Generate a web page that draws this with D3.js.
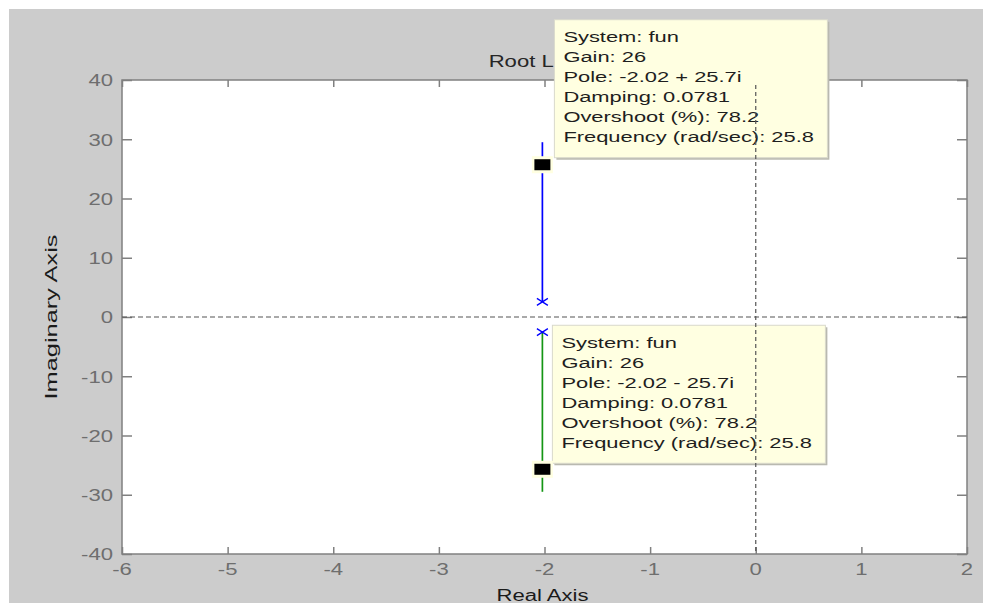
<!DOCTYPE html>
<html>
<head>
<meta charset="utf-8">
<script src="https://cdn.jsdelivr.net/npm/d3@7"></script>
<style>
  html, body { margin: 0; padding: 0; background: #ffffff; }
  svg { display: block; }
  text { font-family: "Liberation Sans", Arial, Helvetica, sans-serif; }
</style>
</head>
<body>
<svg id="chart" width="983" height="603"></svg>
<script>
// Root locus of the closed loop system "fun"
const realTicks = [-6, -5, -4, -3, -2, -1, 0, 1, 2];
const imagTicks = [-40, -30, -20, -10, 0, 10, 20, 30, 40];
const realDomain = [-6, 2];
const imagDomain = [-40, 40];

// locus branches (real part, imaginary part)
const branchUpper = [[-2.02, 2.55], [-2.02, 29.5]];
const branchLower = [[-2.02, -2.55], [-2.02, -29.5]];
// open-loop poles
const openLoopPoles = [[-2.02, 2.55], [-2.02, -2.55]];
// selected closed-loop poles with their data tips
const systemName = "fun";
const tipGain = [26, 26];
const tipRe = [-2.02, -2.02];
const tipIm = [25.7, -25.7];
const tipDamping = [0.0781, 0.0781];
const tipOvershoot = [78.2, 78.2];
const tipFrequency = [25.8, 25.8];

const titleText = "Root Locus";
const xLabelText = "Real Axis";
const yLabelText = "Imaginary Axis";

const svg = d3.select("#chart");
const W = 983, H = 603;
const plot = { left: 122, right: 967, top: 80, bottom: 554 };
const SX = 1.38;        // horizontal text stretch

const x = d3.scaleLinear().domain(realDomain).range([plot.left, plot.right]);
const y = d3.scaleLinear().domain(imagDomain).range([plot.bottom, plot.top]);

// figure background
svg.append("rect").attr("x", 9).attr("y", 9).attr("width", W - 9).attr("height", H - 9)
  .attr("fill", "#cccccc");

// axes area
svg.append("rect").attr("x", plot.left).attr("y", plot.top)
  .attr("width", plot.right - plot.left).attr("height", plot.bottom - plot.top)
  .attr("fill", "#ffffff");

svg.append("defs").append("clipPath").attr("id", "plotClip")
  .append("rect").attr("x", plot.left).attr("y", plot.top)
  .attr("width", plot.right - plot.left).attr("height", plot.bottom - plot.top);

// ticks on all four sides, pointing inward
const axisColor = "#808080";
function styleAxis(g) {
  g.select(".domain").remove();
  g.selectAll(".tick line").attr("stroke", axisColor).attr("stroke-width", 1.5);
  g.selectAll(".tick text").remove();
}
svg.append("g").attr("transform", `translate(0,${plot.bottom})`)
  .call(d3.axisBottom(x).tickValues(realTicks).tickSize(-7)).call(styleAxis);
svg.append("g").attr("transform", `translate(0,${plot.top})`)
  .call(d3.axisTop(x).tickValues(realTicks).tickSize(-7)).call(styleAxis);
svg.append("g").attr("transform", `translate(${plot.left},0)`)
  .call(d3.axisLeft(y).tickValues(imagTicks).tickSize(-10)).call(styleAxis);
svg.append("g").attr("transform", `translate(${plot.right},0)`)
  .call(d3.axisRight(y).tickValues(imagTicks).tickSize(-10)).call(styleAxis);

// axes box
svg.append("rect").attr("x", plot.left).attr("y", plot.top)
  .attr("width", plot.right - plot.left).attr("height", plot.bottom - plot.top)
  .attr("fill", "none").attr("stroke", axisColor).attr("stroke-width", 1.5);

// tick labels
const tickColor = "#6e6e6e";
svg.append("g").selectAll("text").data(realTicks).join("text")
  .attr("transform", d => `translate(${x(d)},575) scale(${SX},1)`)
  .attr("text-anchor", "middle").attr("font-size", 16).attr("fill", tickColor)
  .text(d => String(d));
svg.append("g").selectAll("text").data(imagTicks).join("text")
  .attr("transform", d => `translate(113,${y(d) + 6.3}) scale(${SX},1)`)
  .attr("text-anchor", "end").attr("font-size", 16).attr("fill", tickColor)
  .text(d => String(d));

// title and axis labels
svg.append("text").attr("transform", `translate(${(plot.left + plot.right) / 2},67) scale(${SX},1)`)
  .attr("text-anchor", "middle").attr("font-size", 16).attr("fill", "#262626").text(titleText);
svg.append("text").attr("transform", `translate(${(plot.left + plot.right) / 2 - 2},601) scale(${SX},1)`)
  .attr("text-anchor", "middle").attr("font-size", 16).attr("fill", "#1a1a1a").text(xLabelText);
svg.append("text").attr("transform", `translate(57,${(plot.top + plot.bottom) / 2}) rotate(-90) scale(1.75,1.2)`)
  .attr("text-anchor", "middle").attr("font-size", 14.5).attr("fill", "#1a1a1a").text(yLabelText);

// locus branches
const line = d3.line().x(d => x(d[0])).y(d => y(d[1]));
const plotG = svg.append("g").attr("clip-path", "url(#plotClip)");
plotG.append("path").datum(branchUpper).attr("d", line)
  .attr("fill", "none").attr("stroke", "#0000ff").attr("stroke-width", 1.7);
plotG.append("path").datum(branchLower).attr("d", line)
  .attr("fill", "none").attr("stroke", "#149614").attr("stroke-width", 1.7);

// open-loop pole markers
plotG.selectAll("path.pole").data(openLoopPoles).join("path").attr("class", "pole")
  .attr("transform", d => `translate(${x(d[0])},${y(d[1])})`)
  .attr("d", "M-5.5,-3.5L5.5,3.5M-5.5,3.5L5.5,-3.5")
  .attr("stroke", "#0000ff").attr("stroke-width", 1.3).attr("fill", "none");

// data tips
const tips = tipRe.map((re, i) => ({
  re, im: tipIm[i], gain: tipGain[i], damping: tipDamping[i],
  overshoot: tipOvershoot[i], freq: tipFrequency[i]
}));
const tipFill = "#ffffe1";
const boxW = 273, boxH = 138;

const tipG = svg.append("g");
tips.forEach((t, i) => {
  const mx = x(t.re), my = y(t.im);
  const bx = i === 0 ? mx + 12 : mx + 10;
  const by = i === 0 ? my - 7 - boxH : my - 6 - boxH;
  const g = tipG.append("g");
  g.append("rect").attr("x", bx + 2).attr("y", by + 2).attr("width", boxW).attr("height", boxH)
    .attr("fill", "#b9b9b0");
  g.append("rect").attr("x", bx).attr("y", by).attr("width", boxW).attr("height", boxH)
    .attr("fill", tipFill).attr("stroke", "#d9d9cc").attr("stroke-width", 1);
  const sign = t.im >= 0 ? "+" : "-";
  const lines = [
    `System: ${systemName}`,
    `Gain: ${t.gain}`,
    `Pole: -${Math.abs(t.re).toFixed(2)} ${sign} ${Math.abs(t.im).toFixed(1)}i`,
    `Damping: ${t.damping}`,
    `Overshoot (%): ${t.overshoot}`,
    `Frequency (rad/sec): ${t.freq}`
  ];
  g.selectAll("text").data(lines).join("text")
    .attr("transform", (d, k) => `translate(${bx + 9},${by + 22.7 + k * 20}) scale(1.46,1)`)
    .attr("font-size", 15).attr("fill", "#1e1e1e").text(d => d);
  // selected pole marker
  g.append("rect").attr("x", mx - 10.5).attr("y", my - 8.5).attr("width", 21).attr("height", 17)
    .attr("fill", tipFill);
  g.append("rect").attr("x", mx - 8).attr("y", my - 5.5).attr("width", 16).attr("height", 11)
    .attr("fill", "#000000");
});

// reference lines through the origin
const refG = svg.append("g").attr("clip-path", "url(#plotClip)");
refG.append("line").attr("x1", plot.left).attr("x2", plot.right).attr("y1", y(0)).attr("y2", y(0))
  .attr("stroke", "#555555").attr("stroke-width", 1.2).attr("stroke-dasharray", "5,3");
refG.append("line").attr("x1", x(0)).attr("x2", x(0)).attr("y1", plot.top + 5).attr("y2", plot.bottom)
  .attr("stroke", "#555555").attr("stroke-width", 1.2).attr("stroke-dasharray", "4,3");
</script>
</body>
</html>
